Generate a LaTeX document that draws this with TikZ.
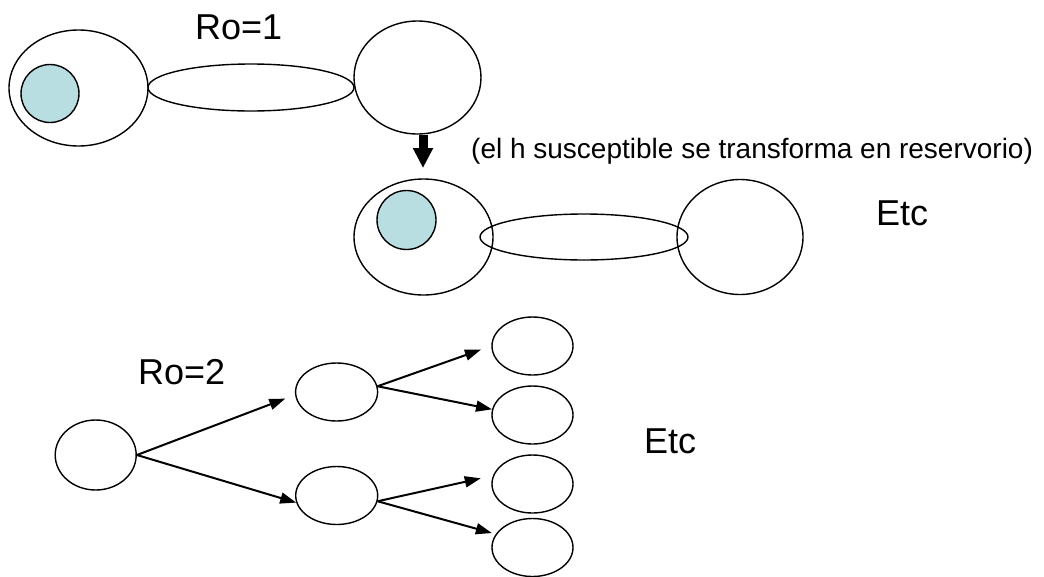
\documentclass[tikz,border=0pt]{standalone}
\usepackage{fontspec}
\setmainfont{Liberation Sans}
\usetikzlibrary{shapes.geometric,arrows.meta}
\definecolor{cellfill}{RGB}{184,222,226}
\begin{document}
\begin{tikzpicture}[x=1pt,y=-1pt,
  oval/.style={draw, ellipse, line width=1.4pt, inner sep=0pt},
  cell/.style={oval, fill=cellfill},
  branch/.style={line width=2pt, -{Triangle[length=16pt,width=11pt]}},
  bigtext/.style={inner sep=0pt, anchor=base west, font=\fontsize{36}{40}\selectfont},
  note/.style={inner sep=0pt, anchor=base west, font=\fontsize{28}{32}\selectfont}
]
\useasboundingbox (0,0) rectangle (1044,576);

% --- R0 = 1: reservoir host, contact, susceptible host ---
\node[oval, minimum width=139pt, minimum height=116pt] (h1) at (78.5,88) {};
\node[cell, minimum size=58pt] (p1) at (50,93.5) {};
\node[oval, minimum width=206pt, minimum height=47pt] (c1) at (251,87.5) {};
\node[oval, minimum width=127pt, minimum height=113pt] (s1) at (417.5,77.5) {};
\node[bigtext] (ro1) at (195,39) {Ro=1};

% transition arrow
\coordinate (tip) at (423,168);
\draw[line width=9pt, -{Triangle[length=20pt,width=19pt]}] (s1.south -| tip) -- (tip);
\node[note] (expl) at (471,158) {(el h susceptible se transforma en reservorio)};

% second generation
\node[oval, minimum width=139pt, minimum height=116pt] (h2) at (423.5,237) {};
\node[cell, minimum size=59pt] (p2) at (406.5,220) {};
\node[oval, minimum width=126pt, minimum height=115pt] (s2) at (740,237) {};
\node[oval, minimum width=208pt, minimum height=46pt] (c2) at (584,237) {};
\node[bigtext] (etc1) at (876,225) {Etc};

% --- R0 = 2: branching tree ---
\node[bigtext] (ro2) at (138,384) {Ro=2};
\node[oval, minimum width=81pt, minimum height=70pt] (root) at (95.7,455) {};
\node[oval, minimum width=82pt, minimum height=58pt] (m1) at (336.6,392) {};
\node[oval, minimum width=82pt, minimum height=58pt] (m2) at (336.7,495.5) {};
\node[oval, minimum width=81pt, minimum height=58pt] (l1) at (532.5,346) {};
\node[oval, minimum width=81pt, minimum height=58pt] (l2) at (532.5,415) {};
\node[oval, minimum width=81pt, minimum height=58pt] (l3) at (532.5,484) {};
\node[oval, minimum width=81pt, minimum height=58pt] (l4) at (532.5,547.5) {};
\node[bigtext] (etc2) at (644,453) {Etc};

\draw[branch, shorten >=10.5pt] (root.east) -- (m1.184);
\draw[branch] (root.east) -- (m2.190);
\draw[branch, shorten >=11pt] (m1.8) -- (l1.west);
\draw[branch] (m1.8) -- (l2.172);
\draw[branch, shorten >=12.5pt] (m2.352) -- (l3.168);
\draw[branch, shorten >=4pt] (m2.352) -- (l4.160);
\end{tikzpicture}
\end{document}
